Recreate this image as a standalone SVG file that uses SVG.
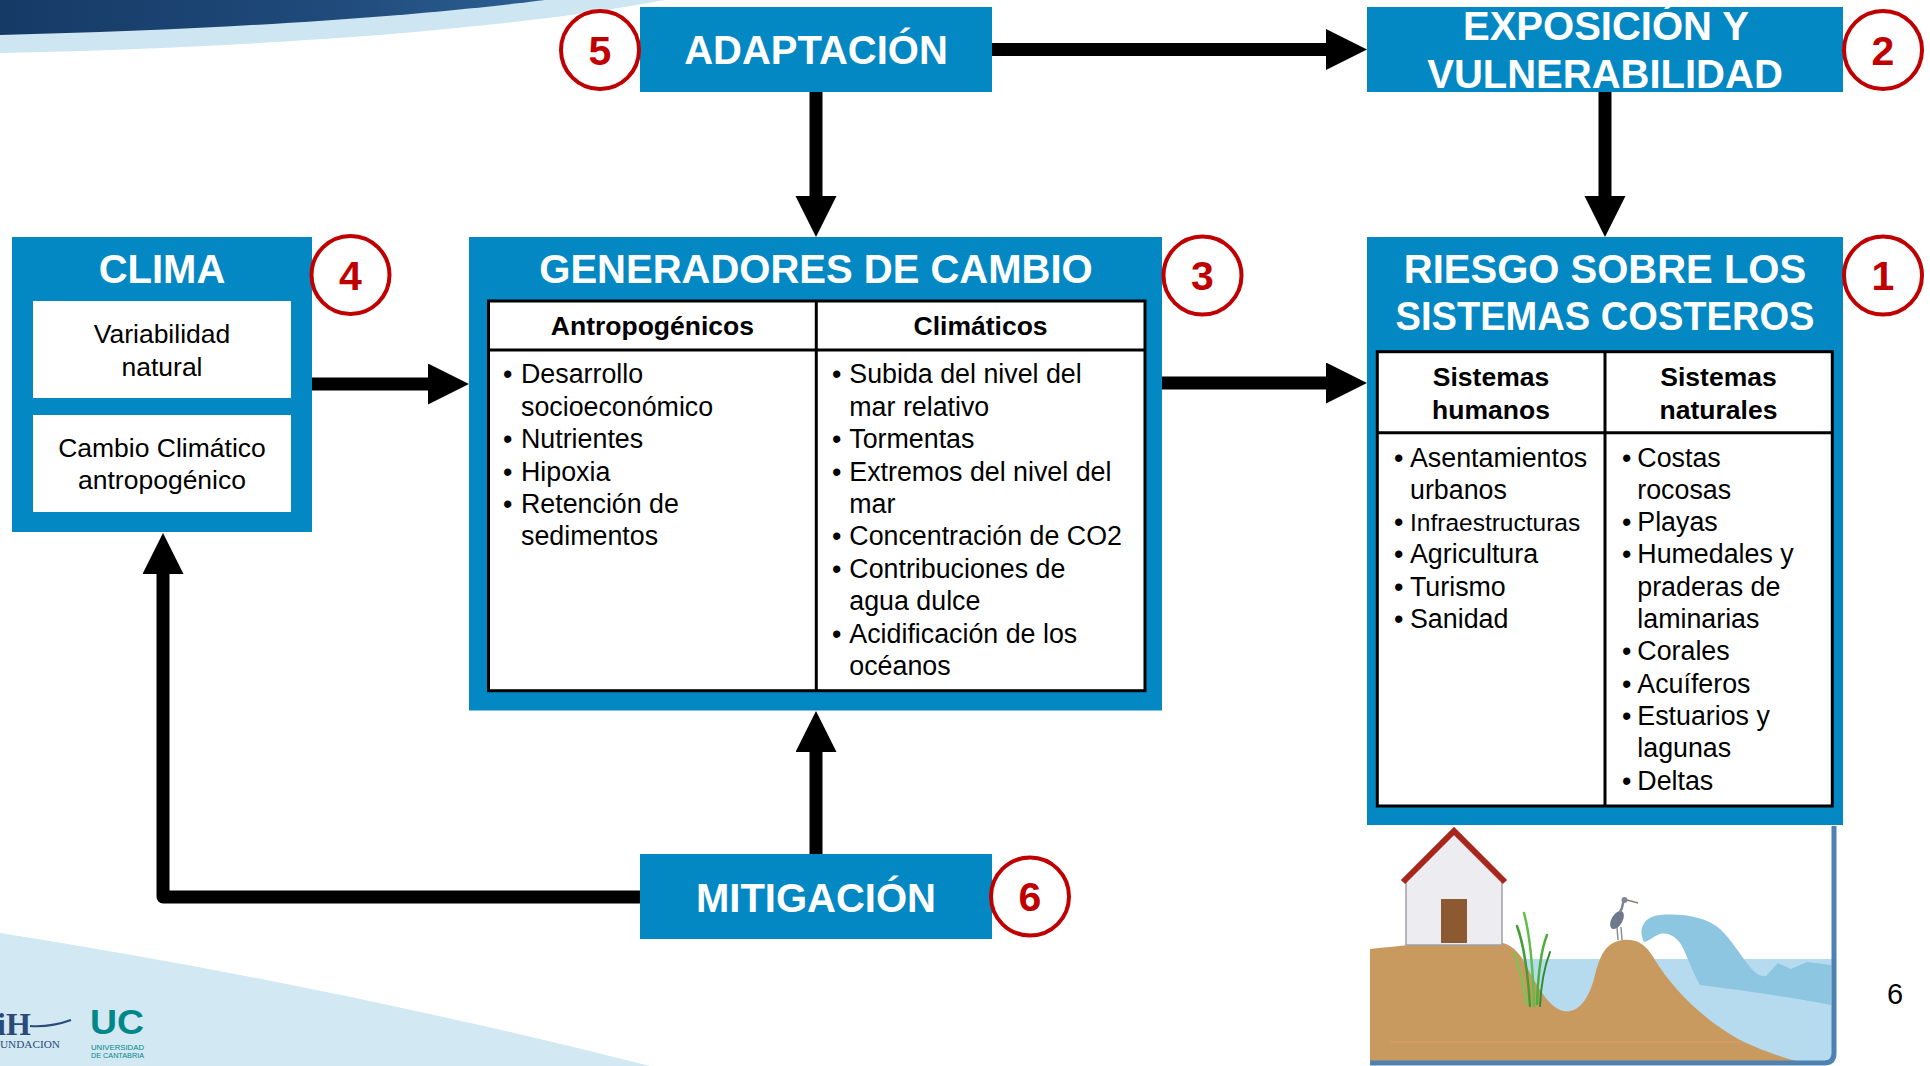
<svg xmlns="http://www.w3.org/2000/svg" width="1930" height="1066" viewBox="0 0 1930 1066">
  <defs>
    <linearGradient id="navy" x1="0" y1="0" x2="1" y2="0">
      <stop offset="0" stop-color="#163a66"/>
      <stop offset="0.6" stop-color="#1f4a7a"/>
      <stop offset="1" stop-color="#2d5f93"/>
    </linearGradient>
    <marker id="ah" markerUnits="userSpaceOnUse" markerWidth="42" markerHeight="42" viewBox="0 0 42 42" refX="1" refY="20.5" orient="auto">
      <path d="M0,0 L41,20.5 L0,41 Z" fill="#000"/>
    </marker>
    <style>
      .box{fill:#0388c4}
      .ttl{font-family:"Liberation Sans",Arial,sans-serif;font-weight:bold;font-size:40px;fill:#fff;text-anchor:middle}
      .badge{fill:#fff;stroke:#c00000;stroke-width:4}
      .bnum{font-family:"Liberation Sans",Arial,sans-serif;font-weight:bold;font-size:41px;fill:#c00000;text-anchor:middle}
      .cell{fill:#fff}
      .tbl{fill:#fff;stroke:#000;stroke-width:3}
      .rule{stroke:#000;stroke-width:3}
      .hdr{font-family:"Liberation Sans",Arial,sans-serif;font-weight:bold;font-size:26.5px;fill:#000;text-anchor:middle}
      .txt{font-family:"Liberation Sans",Arial,sans-serif;font-size:26.8px;fill:#000}
      .mid{text-anchor:middle;font-size:26.5px}
      .conn{fill:none;stroke:#000;stroke-width:13;stroke-linejoin:round;marker-end:url(#ah)}
    </style>
  </defs>

  <rect width="1930" height="1066" fill="#fff"/>

  <!-- slide decoration -->
  <g id="decoration">
    <path d="M0,0 H665 C520,28 260,48 0,53 Z" fill="#cde6f1"/>
    <path d="M0,0 H545 C420,16 220,30 0,35 Z" fill="url(#navy)"/>
    <path d="M0,933 Q330,985 650,1066 L0,1066 Z" fill="#d2e8f2"/>
    <g id="logo-ih">
      <text x="-3" y="1035" font-family="Liberation Serif,serif" font-weight="bold" font-size="32" fill="#2b4a7a">iH</text>
      <path d="M30,1026 C45,1027 60,1024 71,1020" fill="none" stroke="#2b4a7a" stroke-width="2"/>
      <text x="0" y="1048" font-family="Liberation Serif,serif" font-size="10" fill="#2b4a7a" textLength="60" lengthAdjust="spacingAndGlyphs">UNDACION</text>
    </g>
    <g id="logo-uc" fill="#00878a" font-family="Liberation Sans,Arial,sans-serif">
      <text x="90" y="1034" font-weight="900" font-size="35" textLength="54" lengthAdjust="spacingAndGlyphs">UC</text>
      <text x="91" y="1050" font-size="7.5" textLength="53" lengthAdjust="spacingAndGlyphs">UNIVERSIDAD</text>
      <text x="91" y="1058" font-size="7.5" textLength="53" lengthAdjust="spacingAndGlyphs">DE CANTABRIA</text>
    </g>
  </g>

  <!-- connectors -->
  <g id="connectors">
    <path class="conn" d="M992,49.5 H1327"/>
    <path class="conn" d="M816,92 V197"/>
    <path class="conn" d="M1605,92 V197"/>
    <path class="conn" d="M312,384 H429"/>
    <path class="conn" d="M1162,383 H1327"/>
    <path class="conn" d="M816,854 V751"/>
    <path class="conn" d="M640,897 H163 V573"/>
  </g>

  <!-- 5: adaptation -->
  <g id="adaptacion">
    <rect class="box" x="640" y="7" width="352" height="85"/>
    <text class="ttl" x="816" y="64">ADAPTACIÓN</text>
  </g>
  <g id="badge-5">
    <circle class="badge" cx="600" cy="50" r="39"/>
    <text class="bnum" x="600" y="64.5">5</text>
  </g>

  <!-- 2: exposure and vulnerability -->
  <g id="exposicion">
    <rect class="box" x="1367" y="7" width="476" height="85"/>
    <text class="ttl" x="1606" y="40">EXPOSICIÓN Y</text>
    <text class="ttl" x="1605" y="88">VULNERABILIDAD</text>
  </g>
  <g id="badge-2">
    <circle class="badge" cx="1883" cy="50" r="39"/>
    <text class="bnum" x="1883" y="64.5">2</text>
  </g>

  <!-- 4: climate -->
  <g id="clima">
    <rect class="box" x="12" y="237" width="300" height="295"/>
    <text class="ttl" x="162" y="283">CLIMA</text>
    <rect class="cell" x="33" y="301" width="258" height="97"/>
    <rect class="cell" x="33" y="415" width="258" height="97"/>
    <text class="txt mid" x="162" y="343.3">Variabilidad</text>
    <text class="txt mid" x="162" y="376">natural</text>
    <text class="txt mid" x="162" y="457.3">Cambio Climático</text>
    <text class="txt mid" x="162" y="489.3">antropogénico</text>
  </g>
  <g id="badge-4">
    <circle class="badge" cx="350.5" cy="275" r="39"/>
    <text class="bnum" x="350.5" y="289.5">4</text>
  </g>

  <!-- 3: drivers of change -->
  <g id="generadores">
    <rect class="box" x="469" y="237" width="693" height="473.5"/>
    <text class="ttl" x="816" y="283.3">GENERADORES DE CAMBIO</text>
    <rect class="tbl" x="488.5" y="301" width="656.5" height="389.7"/>
    <line class="rule" x1="488.5" y1="350" x2="1145" y2="350"/>
    <line class="rule" x1="816.3" y1="301" x2="816.3" y2="690.7"/>
    <text class="hdr" x="652.4" y="335">Antropogénicos</text>
    <text class="hdr" x="980.6" y="335">Climáticos</text>
    <g class="txt">
      <text x="503" y="383.3">•</text><text x="521" y="383.3">Desarrollo</text>
      <text x="521" y="415.7">socioeconómico</text>
      <text x="503" y="448.1">•</text><text x="521" y="448.1">Nutrientes</text>
      <text x="503" y="480.5">•</text><text x="521" y="480.5">Hipoxia</text>
      <text x="503" y="512.9">•</text><text x="521" y="512.9">Retención de</text>
      <text x="521" y="545.3">sedimentos</text>

      <text x="832" y="383.3">•</text><text x="849.3" y="383.3">Subida del nivel del</text>
      <text x="849.3" y="415.7">mar relativo</text>
      <text x="832" y="448.1">•</text><text x="849.3" y="448.1">Tormentas</text>
      <text x="832" y="480.5">•</text><text x="849.3" y="480.5">Extremos del nivel del</text>
      <text x="849.3" y="512.9">mar</text>
      <text x="832" y="545.3">•</text><text x="849.3" y="545.3">Concentración de CO2</text>
      <text x="832" y="577.7">•</text><text x="849.3" y="577.7">Contribuciones de</text>
      <text x="849.3" y="610.1">agua dulce</text>
      <text x="832" y="642.5">•</text><text x="849.3" y="642.5">Acidificación de los</text>
      <text x="849.3" y="674.9">océanos</text>
    </g>
  </g>
  <g id="badge-3">
    <circle class="badge" cx="1202.5" cy="275.5" r="39"/>
    <text class="bnum" x="1202.5" y="290">3</text>
  </g>

  <!-- 1: risk on coastal systems -->
  <g id="riesgo">
    <rect class="box" x="1367" y="237" width="476" height="588"/>
    <text class="ttl" x="1605" y="283">RIESGO SOBRE LOS</text>
    <text class="ttl" x="1605" y="330" textLength="419" lengthAdjust="spacingAndGlyphs">SISTEMAS COSTEROS</text>
    <rect class="tbl" x="1377.3" y="351.7" width="455" height="454.3"/>
    <line class="rule" x1="1377.3" y1="432.7" x2="1832.3" y2="432.7"/>
    <line class="rule" x1="1605" y1="351.7" x2="1605" y2="806"/>
    <text class="hdr" x="1491" y="386">Sistemas</text>
    <text class="hdr" x="1491" y="419">humanos</text>
    <text class="hdr" x="1718.5" y="386">Sistemas</text>
    <text class="hdr" x="1718.5" y="419">naturales</text>
    <g class="txt">
      <text x="1394" y="466.5">•</text><text x="1410" y="466.5">Asentamientos</text>
      <text x="1410" y="498.8">urbanos</text>
      <text x="1394" y="531.1">•</text><text x="1410" y="531.1" font-size="24.5">Infraestructuras</text>
      <text x="1394" y="563.4">•</text><text x="1410" y="563.4">Agricultura</text>
      <text x="1394" y="595.7">•</text><text x="1410" y="595.7">Turismo</text>
      <text x="1394" y="628">•</text><text x="1410" y="628">Sanidad</text>

      <text x="1622" y="466.5">•</text><text x="1637.3" y="466.5">Costas</text>
      <text x="1637.3" y="498.8">rocosas</text>
      <text x="1622" y="531.1">•</text><text x="1637.3" y="531.1">Playas</text>
      <text x="1622" y="563.4">•</text><text x="1637.3" y="563.4">Humedales y</text>
      <text x="1637.3" y="595.7">praderas de</text>
      <text x="1637.3" y="628">laminarias</text>
      <text x="1622" y="660.3">•</text><text x="1637.3" y="660.3">Corales</text>
      <text x="1622" y="692.6">•</text><text x="1637.3" y="692.6">Acuíferos</text>
      <text x="1622" y="724.9">•</text><text x="1637.3" y="724.9">Estuarios y</text>
      <text x="1637.3" y="757.2">lagunas</text>
      <text x="1622" y="789.5">•</text><text x="1637.3" y="789.5">Deltas</text>
    </g>
  </g>
  <g id="badge-1">
    <circle class="badge" cx="1883" cy="275.5" r="39"/>
    <text class="bnum" x="1883" y="290">1</text>
  </g>

  <!-- 6: mitigation -->
  <g id="mitigacion">
    <rect class="box" x="640" y="854" width="352" height="85"/>
    <text class="ttl" x="816" y="912.3">MITIGACIÓN</text>
  </g>
  <g id="badge-6">
    <circle class="badge" cx="1030" cy="896.5" r="39"/>
    <text class="bnum" x="1030" y="911">6</text>
  </g>

  <!-- coastal scene below the risk box -->
  <g id="coast-scene">
    <rect x="1370" y="826" width="466" height="238" fill="#fff"/>
    <!-- sea -->
    <rect x="1518" y="959" width="315" height="103" fill="#b6dbee"/>
    <!-- breaking wave -->
    <path d="M1644,942 C1637,928 1645,916 1660,915 C1682,913 1707,917 1720,929 C1732,940 1740,955 1750,967 C1756,974 1761,977 1766,976 L1778,963 L1791,969 L1807,962 L1831,965 L1831,1005 C1790,997 1740,990 1700,985 C1693,973 1688,958 1682,946 C1677,937 1668,932 1660,934 C1653,936 1650,941 1644,942 Z" fill="#8dc6e0"/>
    <!-- sand -->
    <path d="M1370,949 C1400,946 1430,942 1460,942 L1497,942 C1508,943 1515,948 1522,958 C1532,975 1545,1006 1563,1011 C1580,1014 1590,996 1595,975 C1600,955 1606,942 1623,940 C1640,938 1648,948 1655,960 C1670,985 1700,1018 1740,1040 C1765,1052 1785,1058 1800,1062 L1370,1062 Z" fill="#c99a5f"/>
    <line x1="1390" y1="1042" x2="1740" y2="1042" stroke="#d6a066" stroke-width="2" opacity="0.6"/>
    <!-- house -->
    <path d="M1406,880 L1454,833 L1502,880 V945 H1406 Z" fill="#ececf1" stroke="#a0a0a6" stroke-width="1.5"/>
    <rect x="1441" y="899" width="26" height="44" fill="#8b5a30"/>
    <polyline points="1403,882 1454,831 1505,882" fill="none" stroke="#a8261b" stroke-width="6"/>
    <!-- reeds -->
    <g fill="none" stroke-linecap="round">
      <path d="M1530,1006 C1528,975 1524,945 1517,926" stroke="#3f9e35" stroke-width="2.5"/>
      <path d="M1534,1006 C1533,970 1530,935 1524,913" stroke="#5fbf48" stroke-width="2.5"/>
      <path d="M1537,1004 C1538,975 1541,950 1547,935" stroke="#4cae3c" stroke-width="2.5"/>
      <path d="M1540,1006 C1541,985 1545,965 1550,952" stroke="#2f8c2c" stroke-width="2"/>
      <path d="M1526,1004 C1523,985 1519,965 1514,952" stroke="#6ccb52" stroke-width="2"/>
    </g>
    <!-- heron -->
    <g>
      <line x1="1617" y1="927" x2="1618" y2="940" stroke="#8a8f98" stroke-width="1.5"/>
      <line x1="1621" y1="927" x2="1622" y2="940" stroke="#8a8f98" stroke-width="1.5"/>
      <ellipse cx="1617" cy="920" rx="5.5" ry="10" transform="rotate(30 1617 920)" fill="#6e7a8c"/>
      <path d="M1620,912 C1624,906 1622,903 1624,900" fill="none" stroke="#7d8797" stroke-width="2.5"/>
      <circle cx="1624.5" cy="900" r="3" fill="#7d8797"/>
      <line x1="1627" y1="900" x2="1638" y2="903" stroke="#8a8070" stroke-width="1.5"/>
    </g>
    <!-- frame -->
    <path d="M1834,826 V1053 Q1834,1063 1824,1063 H1370" fill="none" stroke="#4f81b3" stroke-width="5"/>
  </g>

  <text x="1895" y="1004" font-family="Liberation Sans,Arial,sans-serif" font-size="29" text-anchor="middle" fill="#000">6</text>
</svg>
